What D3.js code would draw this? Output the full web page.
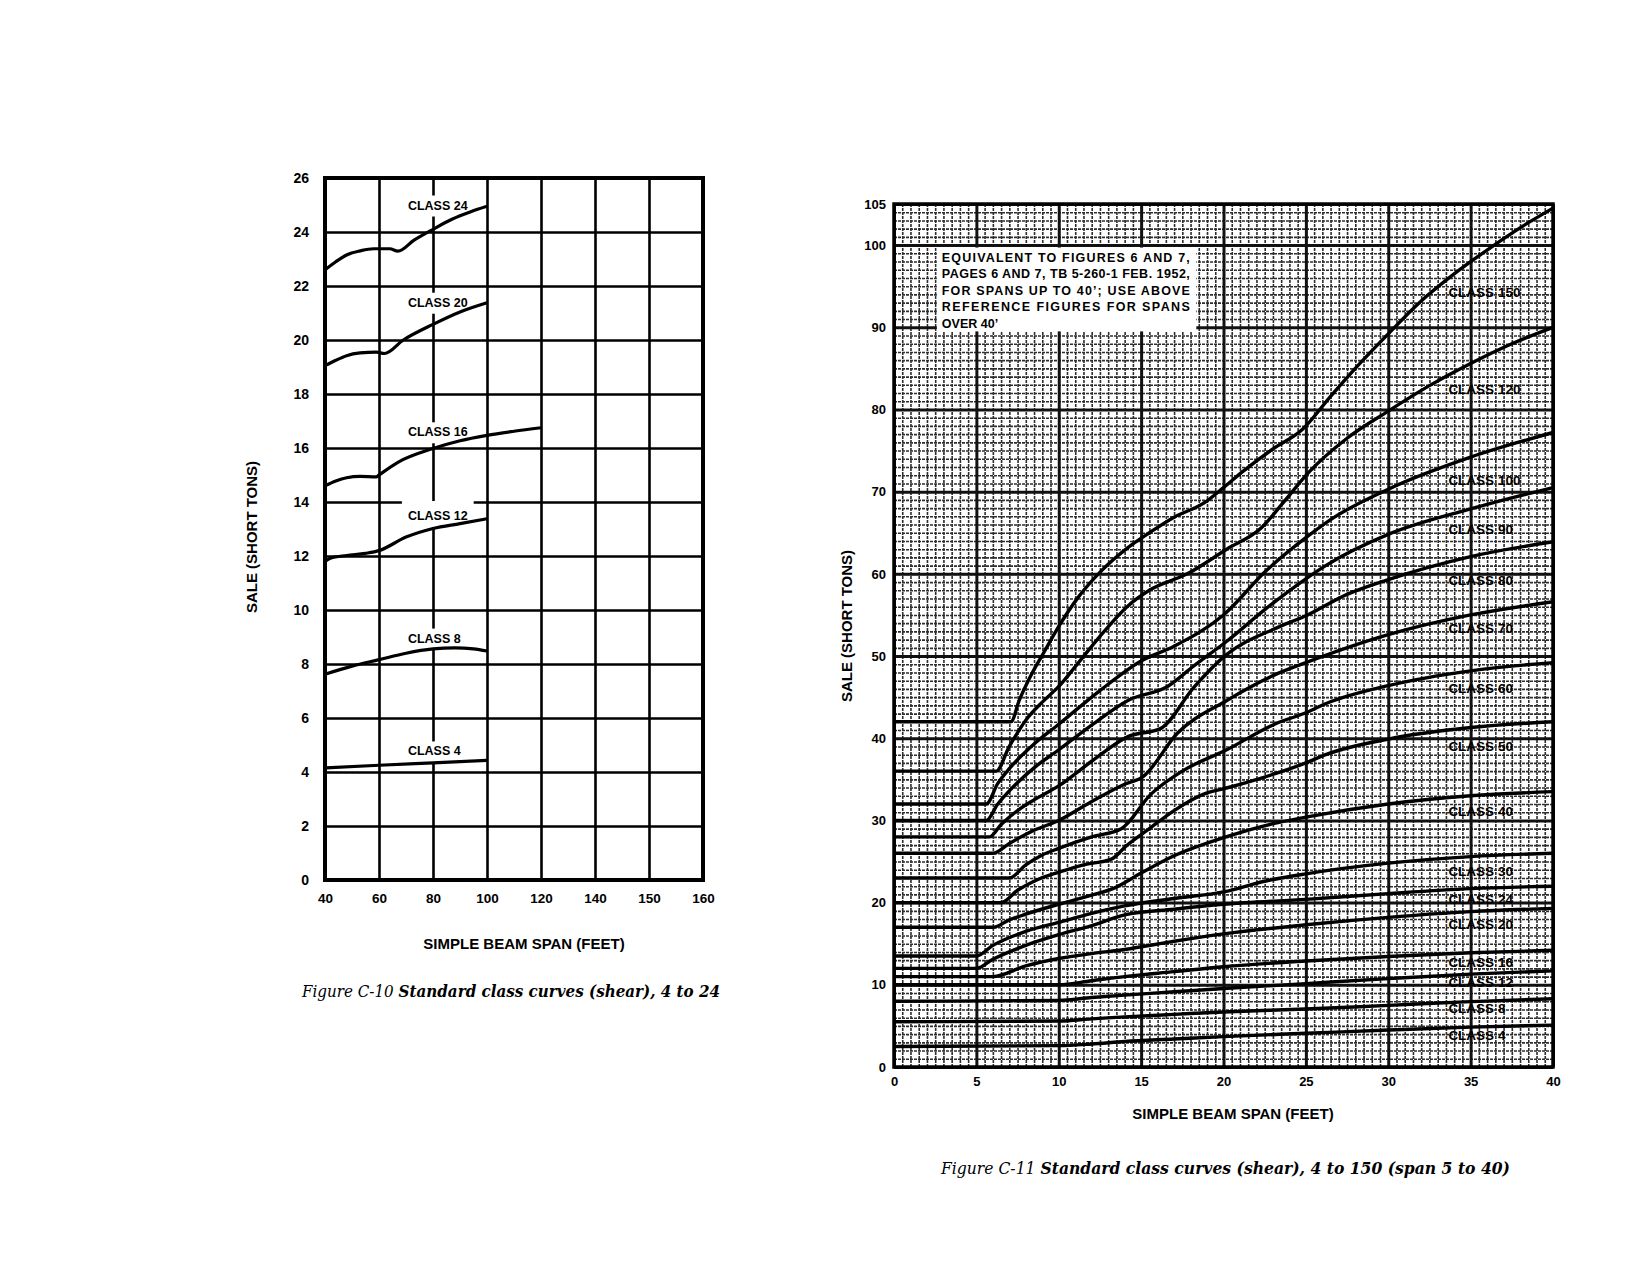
<!DOCTYPE html>
<html>
<head>
<meta charset="utf-8">
<script src="https://cdn.jsdelivr.net/npm/d3@7"></script>
<style>
  body { margin: 0; background: #fff; }
  text { font-family: "Liberation Sans", Arial, sans-serif; font-weight: bold; fill: #000; }
  .cap { font-family: "DejaVu Serif", "Liberation Serif", serif; font-style: italic; }
</style>
</head>
<body>
<script>
// ---------- Figure C-10 data (span in feet, tons) ----------
var c10XTicks = [40, 60, 80, 100, 120, 140, 160, 180];
var c10XTickLabels = ["40", "60", "80", "100", "120", "140", "150", "160"];
var c10YTicks = [0, 2, 4, 6, 8, 10, 12, 14, 16, 18, 20, 22, 24, 26];

var c10Class24 = [[40,22.6],[44,22.9],[48,23.15],[53,23.3],[58,23.38],[64,23.38],[67,23.29],[73,23.7],[80,24.1],[87,24.47],[94,24.75],[100,24.95]];
var c10Class20 = [[40,19.05],[44,19.25],[48,19.42],[53,19.52],[59,19.55],[62,19.5],[69,20],[80,20.58],[90,21.04],[100,21.38]];
var c10Class16 = [[40,14.6],[44,14.78],[48,14.9],[53,14.95],[59,14.93],[60,15],[67,15.47],[80,15.98],[90,16.27],[100,16.47],[110,16.62],[120,16.75]];
var c10Class12 = [[40,11.8],[42,11.92],[48,12.02],[55,12.1],[60,12.2],[70,12.7],[80,13.02],[90,13.2],[100,13.38]];
var c10Class8 = [[40,7.62],[50,7.92],[60,8.16],[70,8.4],[80,8.56],[88,8.6],[95,8.56],[100,8.48]];
var c10Class4 = [[40,4.15],[60,4.25],[80,4.34],[100,4.43]];

var c10Names = ["CLASS 24", "CLASS 20", "CLASS 16", "CLASS 12", "CLASS 8", "CLASS 4"];
var c10Curves = [c10Class24, c10Class20, c10Class16, c10Class12, c10Class8, c10Class4];
var c10LabelV = [25.0, 21.4, 16.6, 13.5, 8.96, 4.78];

// ---------- Figure C-11 data ----------
var c11XTicks = [0, 5, 10, 15, 20, 25, 30, 35, 40];
var c11YTicks = [0, 10, 20, 30, 40, 50, 60, 70, 80, 90, 100, 105];

var c11Class150 = [[0,42],[7.1,42],[7.6,44.6],[8.2,47.2],[9.2,50.8],[10,53.6],[11.2,57.2],[12.6,60.4],[14.2,63.2],[15.5,65],[17,66.9],[18.8,68.6],[20,70.5],[21.2,72.5],[23,75.2],[24.8,77.6],[26.5,81.6],[28,85],[30,89.2],[32,93.2],[34,96.5],[36,99.4],[38,102.1],[40,104.5]];
var c11Class120 = [[0,36],[6.2,36],[7,39],[8,42.2],[9,44.4],[10,46.3],[11.2,49.2],[12.5,52.4],[14.2,56.1],[15.5,58],[17.8,60],[20.2,63],[22.3,65.6],[23.6,68.6],[25.2,72.4],[27.5,76.5],[30,79.8],[32.5,82.9],[35,85.6],[37.5,88],[40,90]];
var c11Class100 = [[0,32],[5.6,32],[6.3,34.5],[7,36.3],[8.5,39.3],[10,41.7],[12.5,45.8],[15,49.4],[17,51.2],[20,55],[22.6,60.4],[25,64.4],[26.5,66.6],[30,70.3],[35,74.2],[40,77.2]];
var c11Class90 = [[0,30],[5.6,30],[6.3,32],[7,33.6],[8.5,36.4],[10,38.6],[12,41.6],[14.2,44.6],[16.6,46.3],[18.2,48.8],[20.2,51.8],[22.6,55.8],[25,59.4],[26.2,61],[30,64.8],[35,67.9],[40,70.5]];
var c11Class80 = [[0,28],[5.8,28],[6.5,29.5],[7.5,31.2],[8.5,32.5],[10,34.2],[12,37.2],[14.2,40.2],[16.2,41.2],[18.2,46.2],[20.2,50.2],[23.2,53.4],[25,54.9],[27.5,57.5],[30,59.3],[35,62.1],[40,63.9]];
var c11Class70 = [[0,26],[6,26],[7,27.2],[8.5,28.8],[10,30],[12,32.3],[14,34.4],[15.1,35.3],[17.2,40.6],[20.2,44.6],[23.2,47.8],[25,49.2],[30,52.6],[35,55],[40,56.6]];
var c11Class60 = [[0,23],[7,23],[8,24.6],[9,25.8],[10,26.6],[12,28],[13.8,29],[15.6,33.2],[17.5,36],[20.2,38.6],[23.2,41.8],[25,43.1],[26.2,44.2],[30,46.4],[35,48.2],[40,49.2]];
var c11Class50 = [[0,20],[6.5,20],[7.5,21.5],[8.5,22.6],[10,23.7],[11.5,24.6],[13.2,25.3],[14.1,26.9],[15.5,29],[17,31.2],[18.8,33.2],[20.1,33.9],[22.2,35.1],[25,37],[26.2,38],[30,39.9],[35,41.3],[40,42]];
var c11Class40 = [[0,17],[6,17],[7,17.9],[8,18.6],[10,19.8],[12,20.9],[13.4,21.8],[15,23.6],[17,25.7],[20,27.9],[23,29.6],[25,30.4],[30,32],[35,33],[40,33.5]];
var c11Class30 = [[0,13.5],[5,13.5],[6,14.8],[8,16.5],[10,17.6],[12,18.7],[14,19.6],[17,20.5],[20,21.3],[22.5,22.6],[25,23.5],[30,24.8],[35,25.6],[40,26]];
var c11Class24 = [[0,12],[5,12],[6,13.1],[8,14.8],[10,16.1],[12,17.2],[14,18.5],[17,19.2],[20,19.8],[25,20.4],[30,21.1],[35,21.7],[40,22]];
var c11Class20 = [[0,11],[6,11],[8,12.3],[10,13.2],[12,13.8],[14,14.3],[17,15.3],[20,16.2],[25,17.3],[30,18.2],[35,18.9],[40,19.3]];
var c11Class16 = [[0,10],[10,10],[12,10.5],[14,11],[17,11.6],[20,12.2],[25,12.9],[30,13.45],[35,13.9],[40,14.2]];
var c11Class12 = [[0,8],[10,8.1],[12,8.45],[14,8.75],[17,9.15],[20,9.55],[25,10.15],[30,10.75],[35,11.3],[40,11.7]];
var c11Class8 = [[0,5.5],[10,5.6],[12,5.85],[14,6.1],[17,6.4],[20,6.7],[25,7.05],[30,7.5],[35,7.95],[40,8.3]];
var c11Class4 = [[0,2.5],[10,2.6],[12,2.8],[14,3.1],[17,3.4],[20,3.7],[25,4.1],[30,4.5],[35,4.85],[40,5.1]];

var c11Names = ["CLASS 150", "CLASS 120", "CLASS 100", "CLASS 90", "CLASS 80", "CLASS 70", "CLASS 60", "CLASS 50",
                "CLASS 40", "CLASS 30", "CLASS 24", "CLASS 20", "CLASS 16", "CLASS 12", "CLASS 8", "CLASS 4"];
var c11Curves = [c11Class150, c11Class120, c11Class100, c11Class90, c11Class80, c11Class70, c11Class60, c11Class50,
                 c11Class40, c11Class30, c11Class24, c11Class20, c11Class16, c11Class12, c11Class8, c11Class4];
var c11LabelV = [94.3, 82.5, 71.4, 65.5, 59.3, 53.4, 46.1, 39, 31.1, 23.8, 20.4, 17.4, 12.8, 10.3, 7.2, 3.9];

var noteLines = ["EQUIVALENT TO FIGURES 6 AND 7,",
                 "PAGES 6 AND 7, TB 5-260-1 FEB. 1952,",
                 "FOR SPANS UP TO 40’; USE ABOVE",
                 "REFERENCE FIGURES FOR SPANS",
                 "OVER 40’"];

var svg = d3.select("body").append("svg")
  .attr("width", 1650)
  .attr("height", 1277);

// ================= Figure C-10 =================
var xL = d3.scaleLinear().domain([40, 180]).range([325, 703]);
var yL = d3.scaleLinear().domain([0, 26]).range([880, 178]);

var leftG = svg.append("g");

// grid + tick labels from the axes
var lxAxis = leftG.append("g")
  .attr("transform", "translate(0," + yL(0) + ")")
  .call(d3.axisBottom(xL).tickValues(c10XTicks).tickSize(-(yL(0) - yL(26))).tickPadding(13)
    .tickFormat(function (d, i) { return c10XTickLabels[i]; }));
lxAxis.select(".domain").remove();
lxAxis.selectAll("line").attr("stroke", "#000").attr("stroke-width", 2.6);
lxAxis.selectAll("text").style("font-size", "13.5px").style("font-family", "Liberation Sans, Arial, sans-serif").style("font-weight", "bold");

var lyAxis = leftG.append("g")
  .attr("transform", "translate(" + xL(40) + ",0)")
  .call(d3.axisLeft(yL).tickValues(c10YTicks).tickSize(-(xL(180) - xL(40))).tickPadding(16));
lyAxis.select(".domain").remove();
lyAxis.selectAll("line").attr("stroke", "#000").attr("stroke-width", 2.6);
lyAxis.selectAll("text").style("font-size", "14px").style("font-family", "Liberation Sans, Arial, sans-serif").style("font-weight", "bold");

// frame
leftG.append("rect")
  .attr("x", xL(40)).attr("y", yL(26))
  .attr("width", xL(180) - xL(40)).attr("height", yL(0) - yL(26))
  .attr("fill", "none").attr("stroke", "#000").attr("stroke-width", 4);

// class labels with white knock-out behind them
var leftLabels = leftG.selectAll(".llab")
  .data(c10Names)
  .enter()
  .append("g")
  .attr("class", "llab");

leftLabels.append("rect").attr("fill", "#fff");
leftLabels.append("text")
  .attr("x", xL(70.7))
  .attr("y", function (d, i) { return yL(c10LabelV[i]) + 4.5; })
  .style("font-size", "12.5px")
  .text(function (d) { return d; });

leftLabels.each(function (d) {
  var g = d3.select(this);
  var b = g.select("text").node().getBBox();
  var up = d === "CLASS 12" ? 8 : 3;
  g.select("rect")
    .attr("x", b.x - 6).attr("y", b.y - up)
    .attr("width", b.width + 12).attr("height", b.height + up + 4);
});

var lineL = d3.line()
  .x(function (d) { return xL(d[0]); })
  .y(function (d) { return yL(d[1]); })
  .curve(d3.curveMonotoneX);

leftG.selectAll(".lcurve")
  .data(c10Curves)
  .enter()
  .append("path")
  .attr("class", "lcurve")
  .attr("d", lineL)
  .attr("fill", "none")
  .attr("stroke", "#000")
  .attr("stroke-width", 3.2)
  .attr("stroke-linejoin", "round");

// axis titles + caption
leftG.append("text")
  .attr("transform", "translate(257,537) rotate(-90)")
  .attr("text-anchor", "middle")
  .style("font-size", "15px")
  .text("SALE (SHORT TONS)");

leftG.append("text")
  .attr("x", 524).attr("y", 949)
  .attr("text-anchor", "middle")
  .style("font-size", "15px")
  .text("SIMPLE BEAM SPAN (FEET)");

var capL = leftG.append("text")
  .attr("class", "cap")
  .attr("x", 302).attr("y", 997)
  .attr("textLength", 418)
  .attr("lengthAdjust", "spacingAndGlyphs")
  .style("font-size", "16.5px");
capL.append("tspan").style("font-weight", "normal").text("Figure C-10 ");
capL.append("tspan").style("font-weight", "bold").text("Standard class curves (shear), 4 to 24");

// ================= Figure C-11 =================
var xR = d3.scaleLinear().domain([0, 40]).range([894, 1553]);
var yR = d3.scaleLinear().domain([0, 105]).range([1067, 204]);
var rightG = svg.append("g");
var hR = yR(0) - yR(105);
var wR = xR(40) - xR(0);

// fine graph-paper grid
var minorX = d3.range(0, 40.001, 0.5);
var minorY = d3.range(0, 105.001, 1);

var mgx = rightG.append("g")
  .attr("transform", "translate(0," + yR(0) + ")")
  .call(d3.axisBottom(xR).tickValues(minorX).tickSize(-hR).tickFormat(""));
mgx.select(".domain").remove();
mgx.selectAll("line").attr("stroke", "#2e2e2e").attr("stroke-width", 1.6).attr("stroke-dasharray", "3,1");

var mgy = rightG.append("g")
  .attr("transform", "translate(" + xR(0) + ",0)")
  .call(d3.axisLeft(yR).tickValues(minorY).tickSize(-wR).tickFormat(""));
mgy.select(".domain").remove();
mgy.selectAll("line").attr("stroke", "#2e2e2e").attr("stroke-width", 1.6).attr("stroke-dasharray", "3,1");

// major lines + tick labels
var rxAxis = rightG.append("g")
  .attr("transform", "translate(0," + yR(0) + ")")
  .call(d3.axisBottom(xR).tickValues(c11XTicks).tickSize(-hR).tickPadding(10));
rxAxis.select(".domain").remove();
rxAxis.selectAll("line").attr("stroke", "#111").attr("stroke-width", 3);
rxAxis.selectAll("text").style("font-size", "13px").style("font-family", "Liberation Sans, Arial, sans-serif").style("font-weight", "bold");

var ryAxis = rightG.append("g")
  .attr("transform", "translate(" + xR(0) + ",0)")
  .call(d3.axisLeft(yR).tickValues(c11YTicks).tickSize(-wR).tickPadding(8));
ryAxis.select(".domain").remove();
ryAxis.selectAll("line").attr("stroke", "#111").attr("stroke-width", 3);
ryAxis.selectAll("text").style("font-size", "13px").style("font-family", "Liberation Sans, Arial, sans-serif").style("font-weight", "bold");

rightG.append("rect")
  .attr("x", xR(0)).attr("y", yR(105))
  .attr("width", wR).attr("height", hR)
  .attr("fill", "none").attr("stroke", "#000").attr("stroke-width", 3.5);

// note box
var boxX0 = xR(2.6), boxX1 = xR(18.35);
rightG.append("rect")
  .attr("x", boxX0).attr("y", yR(99.7))
  .attr("width", boxX1 - boxX0).attr("height", yR(89.5) - yR(99.7))
  .attr("fill", "#fff");

rightG.selectAll(".note")
  .data(noteLines)
  .enter()
  .append("text")
  .attr("class", "note")
  .attr("x", boxX0 + 5)
  .attr("y", function (d, i) { return 261.5 + i * 16.5; })
  .attr("textLength", function (d, i) { return i < noteLines.length - 1 ? 248 : null; })
  .attr("lengthAdjust", "spacing")
  .style("font-size", "12.5px")
  .text(function (d) { return d; });

var lineR = d3.line()
  .x(function (d) { return xR(d[0]); })
  .y(function (d) { return yR(d[1]); })
  .curve(d3.curveMonotoneX);

rightG.selectAll(".rcurve")
  .data(c11Curves)
  .enter()
  .append("path")
  .attr("class", "rcurve")
  .attr("d", lineR)
  .attr("fill", "none")
  .attr("stroke", "#000")
  .attr("stroke-width", 3.4)
  .attr("stroke-linejoin", "round");

rightG.selectAll(".rlab")
  .data(c11Names)
  .enter()
  .append("text")
  .attr("class", "rlab")
  .attr("x", xR(33.65))
  .attr("y", function (d, i) { return yR(c11LabelV[i]) + 5; })
  .style("font-size", "13.5px")
  .text(function (d) { return d; });

rightG.append("text")
  .attr("transform", "translate(852,626) rotate(-90)")
  .attr("text-anchor", "middle")
  .style("font-size", "15px")
  .text("SALE (SHORT TONS)");

rightG.append("text")
  .attr("x", 1233).attr("y", 1119)
  .attr("text-anchor", "middle")
  .style("font-size", "15px")
  .text("SIMPLE BEAM SPAN (FEET)");

var capR = rightG.append("text")
  .attr("class", "cap")
  .attr("x", 941).attr("y", 1174)
  .attr("textLength", 569)
  .attr("lengthAdjust", "spacingAndGlyphs")
  .style("font-size", "16.5px");
capR.append("tspan").style("font-weight", "normal").text("Figure C-11 ");
capR.append("tspan").style("font-weight", "bold").text("Standard class curves (shear), 4 to 150 (span 5 to 40)");
</script>
</body>
</html>
